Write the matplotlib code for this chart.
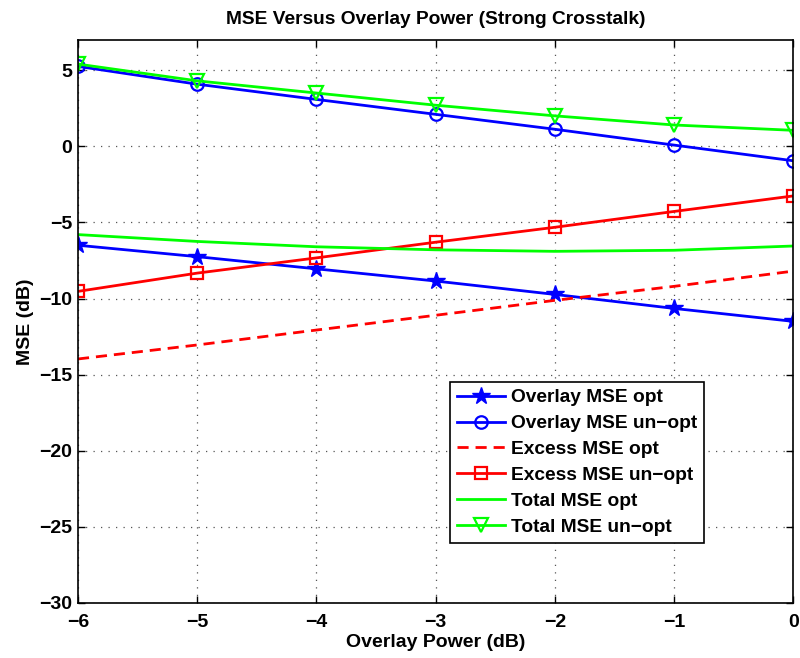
import matplotlib
matplotlib.use("Agg")
import matplotlib.pyplot as plt

plt.rcParams['font.family'] = ['Liberation Sans', 'DejaVu Sans']
plt.rcParams['font.weight'] = 'bold'
plt.rcParams['axes.unicode_minus'] = True

overlay_power = [-6, -5, -4, -3, -2, -1, 0]

overlay_mse_opt = [-6.5, -7.25, -8.05, -8.85, -9.73, -10.65, -11.5]
overlay_mse_unopt = [5.25, 4.08, 3.08, 2.1, 1.12, 0.08, -0.95]
excess_mse_opt = [-13.97, -13.05, -12.07, -11.1, -10.12, -9.2, -8.2]
excess_mse_unopt = [-9.53, -8.33, -7.33, -6.3, -5.32, -4.28, -3.26]
total_mse_opt = [-5.8, -6.25, -6.6, -6.8, -6.9, -6.83, -6.55]
total_mse_unopt = [5.4, 4.3, 3.5, 2.7, 2.0, 1.4, 1.05]

labels = ["Overlay MSE opt", "Overlay MSE un\u2212opt", "Excess MSE opt",
          "Excess MSE un\u2212opt", "Total MSE opt", "Total MSE un\u2212opt"]

xticks = [-6, -5, -4, -3, -2, -1, 0]
yticks = [-30, -25, -20, -15, -10, -5, 0, 5]

fig = plt.figure(figsize=(8.0, 6.58), dpi=100)
ax = fig.add_axes([0.0975, 0.0836, 0.894, 0.856])

lw = 2.0
ms = 9
ax.plot(overlay_power, overlay_mse_opt, color='#0000ff', lw=lw, marker='*',
        ms=ms + 4, mfc='#0000ff', mec='#0000ff', label=labels[0])
ax.plot(overlay_power, overlay_mse_unopt, color='#0000ff', lw=lw, marker='o',
        ms=ms, mfc='none', mec='#0000ff', mew=1.6, label=labels[1])
ax.plot(overlay_power, excess_mse_opt, color='#ff0000', lw=lw, ls=(0, (4, 2.5)),
        label=labels[2])
ax.plot(overlay_power, excess_mse_unopt, color='#ff0000', lw=lw, marker='s',
        ms=ms - 1, mfc='none', mec='#ff0000', mew=1.6, label=labels[3])
ax.plot(overlay_power, total_mse_opt, color='#00ff00', lw=lw, label=labels[4])
ax.plot(overlay_power, total_mse_unopt, color='#00ff00', lw=lw, marker='v',
        ms=ms + 1, mfc='none', mec='#00ff00', mew=1.6, label=labels[5])

ax.set_xlim(-6, 0)
ax.set_ylim(-30, 7)
ax.set_xticks(xticks)
ax.set_yticks(yticks)
ax.tick_params(direction='in', top=True, right=True, length=5, width=1,
               labelsize=14)
ax.tick_params(axis='x', pad=8)
ax.tick_params(axis='y', pad=4)
for lab in ax.get_xticklabels() + ax.get_yticklabels():
    lab.set_fontweight('bold')
for s in ax.spines.values():
    s.set_linewidth(1.2)
ax.grid(True, ls=(0, (1, 5)), color='#555555', lw=0.9)

ax.set_title("MSE Versus Overlay Power (Strong Crosstalk)", fontsize=13.8,
             fontweight='bold', pad=11)
ax.set_xlabel("Overlay Power (dB)", fontsize=14, fontweight='bold', labelpad=2)
ax.set_ylabel("MSE (dB)", fontsize=14, fontweight='bold', labelpad=4)

leg = ax.legend(loc='lower right', bbox_to_anchor=(0.8755, 0.1066),
                fontsize=13.8, frameon=True, fancybox=False, framealpha=1,
                edgecolor='black', handlelength=2.5, handletextpad=0.3,
                borderpad=0.38, labelspacing=0.44, borderaxespad=0)
leg.get_frame().set_linewidth(1.2)
for t in leg.get_texts():
    t.set_fontweight('bold')

fig.savefig("out.png", dpi=100)
